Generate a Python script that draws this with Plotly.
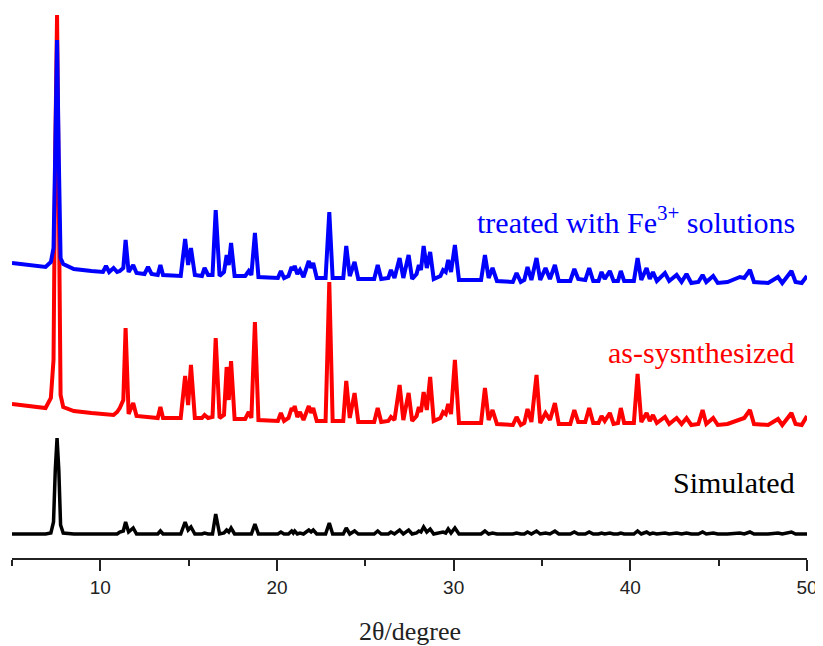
import plotly.graph_objects as go

# 2-theta positions of the pattern vertices (degrees)
two_theta = [
    5.0, 6.0, 6.9, 7.2, 7.35, 7.45, 7.55, 7.65, 7.75, 7.9, 8.5, 9.5,
    10.15, 10.32, 10.5, 10.75, 10.95, 11.1, 11.3, 11.43, 11.6, 11.86, 12.05, 12.5,
    12.7, 12.9, 13.25, 13.4, 13.55, 14.55, 14.8, 14.97, 15.13, 15.35, 15.75, 15.9,
    16.1, 16.35, 16.53, 16.75, 17.0, 17.15, 17.27, 17.4, 17.6, 18.2, 18.4, 18.55,
    18.75, 18.95, 20.05, 20.22, 20.4, 20.65, 20.83, 20.92, 21.0, 21.15, 21.3, 21.5,
    21.8, 21.93, 22.05, 22.25, 22.75, 22.96, 23.15, 23.75, 23.92, 24.12, 24.39, 24.6,
    25.5, 25.7, 25.9, 26.3, 26.45, 26.65, 26.94, 27.15, 27.45, 27.65, 27.9, 28.03,
    28.15, 28.3, 28.48, 28.67, 28.87, 29.25, 29.4, 29.55, 29.69, 29.85, 30.07, 30.3,
    31.55, 31.77, 31.98, 32.2, 32.45, 33.35, 33.56, 33.8, 34.0, 34.18, 34.4, 34.69,
    34.9, 35.2, 35.45, 35.73, 35.95, 36.6, 36.83, 37.05, 37.45, 37.67, 37.9, 38.2,
    38.37, 38.55, 38.84, 39.05, 39.3, 39.46, 39.65, 40.2, 40.41, 40.62, 40.92, 41.1,
    41.28, 41.5, 41.96, 42.2, 42.62, 42.9, 43.18, 43.45, 43.85, 44.09, 44.3, 44.69,
    44.95, 45.5, 46.2, 46.45, 46.77, 47.0, 47.8, 48.36, 48.6, 49.12, 49.35, 49.7,
    50.0,
]

# intensities (a.u.) of the pattern treated with Fe3+ solutions
treated = [
    25, 23, 21, 26, 40, 138, 248, 128, 30, 24, 19, 17,
    16, 22, 16, 20, 16, 17, 20, 48, 16, 23, 15, 14,
    21, 14, 13, 23, 13, 12, 49, 23, 40, 13, 12, 20,
    13, 13, 78, 12, 16, 33, 23, 45, 12, 12, 17, 13,
    55, 11, 10, 17, 10, 12, 21, 18, 22, 14, 18, 11,
    27, 20, 25, 10, 10, 76, 10, 10, 42, 12, 26, 9,
    9, 23, 9, 10, 18, 10, 30, 10, 33, 9, 14, 23,
    18, 42, 20, 36, 9, 12, 18, 16, 28, 16, 43, 8,
    8, 33, 10, 20, 7, 6, 15, 6, 8, 21, 8, 30,
    8, 20, 9, 23, 7, 7, 19, 9, 8, 20, 7, 7,
    16, 9, 17, 7, 7, 17, 7, 7, 30, 8, 20, 9,
    16, 7, 15, 7, 13, 6, 14, 5, 6, 13, 6, 12,
    5, 6, 11, 10, 18, 6, 5, 11, 5, 17, 6, 5,
    12,
]

# intensities (a.u.) of the as-synthesized pattern
as_synthesized = [
    24, 22, 20, 30, 68, 278, 413, 228, 33, 21, 17, 15,
    14, 14, 14, 13, 16, 20, 28, 100, 14, 25, 12, 11,
    11, 11, 10, 21, 10, 10, 52, 23, 63, 10, 10, 13,
    10, 11, 90, 10, 13, 61, 28, 67, 9, 9, 16, 10,
    106, 8, 7, 15, 7, 10, 20, 17, 22, 11, 16, 8,
    22, 15, 20, 7, 7, 146, 7, 7, 47, 10, 35, 6,
    6, 20, 6, 7, 11, 8, 43, 8, 35, 7, 12, 21,
    16, 36, 18, 51, 7, 10, 16, 14, 24, 14, 68, 5,
    5, 40, 8, 18, 4, 3, 11, 3, 5, 19, 6, 53,
    5, 15, 8, 25, 4, 4, 18, 6, 6, 20, 5, 5,
    12, 7, 15, 4, 5, 20, 5, 5, 54, 6, 15, 7,
    13, 5, 11, 4, 10, 4, 10, 3, 4, 18, 4, 10,
    3, 4, 9, 10, 18, 4, 3, 9, 3, 15, 4, 3,
    12,
]

# intensities (a.u.) of the simulated pattern
simulated = [
    4, 4, 4, 5, 16, 68, 100, 68, 13, 5, 4, 4,
    4, 4, 4, 4, 4, 6, 7, 16, 6, 10, 4, 4,
    4, 4, 4, 7, 4, 4, 16, 8, 11, 4, 4, 5,
    4, 4, 24, 4, 5, 8, 6, 10, 4, 4, 4, 4,
    14, 4, 4, 6, 4, 4, 7, 5, 7, 4, 5, 4,
    8, 6, 8, 4, 4, 15, 4, 4, 10, 4, 7, 4,
    4, 7, 4, 4, 6, 4, 8, 4, 8, 4, 5, 7,
    6, 11, 6, 9, 4, 5, 6, 5, 9, 5, 10, 4,
    4, 7, 4, 5, 4, 4, 5, 4, 4, 6, 4, 7,
    4, 5, 4, 7, 4, 4, 6, 4, 4, 6, 4, 4,
    5, 4, 5, 4, 4, 5, 4, 4, 7, 4, 6, 4,
    5, 4, 5, 4, 5, 4, 5, 4, 4, 6, 4, 5,
    4, 4, 5, 4, 6, 4, 4, 5, 4, 6, 4, 4,
    4,
]

series_names = ["Simulated", "as-sysnthesized", "treated with Fe<sup>3+</sup> solutions"]
tick_values = [10, 20, 30, 40, 50]
tick_labels = ["10", "20", "30", "40", "50"]

# vertical stacking offsets, colours and widths (style, not data)
offsets = [20, 130, 270]
colors = ["#000000", "#FF0000", "#0000FF"]
widths = [3.5, 4, 4]
series = [simulated, as_synthesized, treated]

fig = go.Figure()
for name, ys, off, col, w in zip(series_names, series, offsets, colors, widths):
    fig.add_trace(go.Scatter(
        x=two_theta, y=[v + off for v in ys], mode="lines", name=name,
        line=dict(color=col, width=w), showlegend=False, hoverinfo="skip",
    ))

label_y = [76, 206, 338]
for name, ly, col in zip(series_names, label_y, colors):
    fig.add_annotation(
        x=49.45, y=ly, xref="x", yref="y", text=name, showarrow=False,
        xanchor="right", yanchor="middle",
        font=dict(family="Liberation Serif, Times New Roman, serif", size=30, color=col),
    )

fig.add_annotation(
    x=0.5, y=-0.133, xref="paper", yref="paper", text="2θ/degree", showarrow=False,
    xanchor="center", yanchor="middle",
    font=dict(family="Liberation Serif, Times New Roman, serif", size=26, color="#222222"),
)

# page body has an 8px margin, so the figure is drawn 8px in from the top-left
fig.update_layout(
    width=815, height=638,
    margin=dict(l=4, r=16, t=0, b=88),
    paper_bgcolor="white", plot_bgcolor="white",
    xaxis=dict(
        range=[5, 50], tickvals=tick_values, ticktext=tick_labels,
        showline=True, linecolor="#222222", linewidth=1.8, mirror=False,
        ticks="outside", ticklen=11, tickwidth=1.8, tickcolor="#222222",
        minor=dict(tickvals=[5, 15, 25, 35, 45], ticks="outside", ticklen=6,
                   tickwidth=1.8, tickcolor="#222222"),
        showgrid=False, zeroline=False,
        tickfont=dict(family="Liberation Sans, Arial, sans-serif", size=19, color="#222222"),
    ),
    yaxis=dict(range=[0, 550], visible=False, showgrid=False, zeroline=False),
)

fig.write_html("out.html")
